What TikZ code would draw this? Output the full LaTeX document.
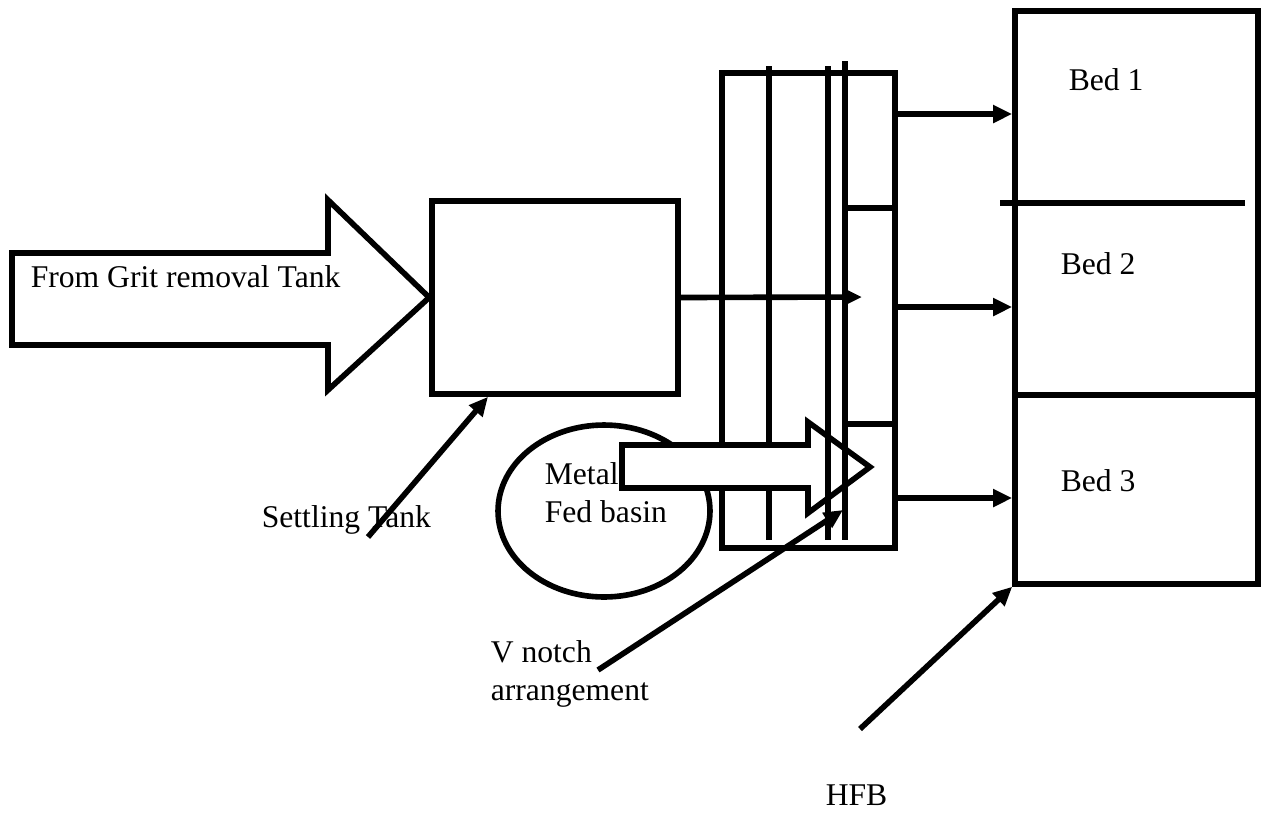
\documentclass[tikz,border=0pt]{standalone}
\usepackage{fontspec}
\setmainfont{Liberation Serif}
\usepackage{tikz}
\usetikzlibrary{shapes.geometric, arrows.meta, positioning}

\begin{document}
\begin{tikzpicture}[
    x=0.02cm, y=-0.02cm,
    line width=3.2pt,
    every node/.style={font=\fontsize{18}{21.5}\selectfont},
    tankbox/.style={rectangle, draw=black, line width=3.2pt, inner sep=0pt},
    fatarrow/.style={draw=black, fill=white, line width=3.2pt, line join=miter},
    label/.style={inner sep=0pt, anchor=base west, align=left},
    arrow/.style={-{Triangle[length=0.38cm, width=0.34cm]}, line width=3.2pt}
]
    \useasboundingbox (0,0) rectangle (1265,823);

    % Nodes
    \node[tankbox, minimum width=4.92cm, minimum height=3.86cm] (settle) at (555,297.5) {};
    \node[tankbox, minimum width=3.46cm, minimum height=9.5cm] (vnotch) at (808.5,310.5) {};
    \node[tankbox, minimum width=4.86cm, minimum height=11.46cm] (hfb) at (1136.5,297.5) {};
    \node[ellipse, draw=black, line width=3.2pt, minimum width=4.24cm, minimum height=3.44cm] (basin) at (604,511) {};

    % Inflow from grit tank
    \draw[fatarrow] (12,253) -- (328,253) -- (328,200) -- (settle.west) -- (328,390) -- (328,345) -- (12,345) -- cycle;
    \node[label] (grit) at (28,287) {From Grit removal Tank};

    % V notch weirs
    \draw (769,66) -- (769,540);
    \draw[fatarrow] (622,445) -- (808,445) -- (808,422) -- (870,467) -- (808,513) -- (808,488) -- (622,488) -- cycle;
    \draw (828,66) -- (828,540);
    \draw (845,61) -- (845,540);
    \draw (845,208) -- (vnotch.east |- 0,208);
    \draw (845,424) -- (vnotch.east |- 0,424);
    \node[label] (basintext) at (542,522) {Metal\\Fed basin};

    % Beds
    \draw (1000,203) -- (1245,203);
    \draw (hfb.west |- 0,395) -- (hfb.east |- 0,395);
    \node[label] (bed1) at (1066,90) {Bed 1};
    \node[label] (bed2) at (1058,274) {Bed 2};
    \node[label] (bed3) at (1058,491) {Bed 3};

    % Labels
    \node[label] (settlelabel) at (259,527) {Settling Tank};
    \node[label] (notchlabel) at (488,700) {V notch\\arrangement};
    \node[label] (hfblabel) at (823,805) {HFB};
    \coordinate (settlefoot) at (368,537);
    \coordinate (notchfoot) at (598,670);
    \coordinate (notchtip) at (843,510);
    \coordinate (hfbfoot) at (860,729);
    \coordinate (weir) at (862,297);

    % Arrows
    \draw[arrow] (settle.east) -- (weir);
    \foreach \y in {114,307,498}
        \draw[arrow] (vnotch.east |- 0,\y) -- (hfb.west |- 0,\y);
    \draw[arrow] (settlefoot) -- (settle.south -| 488,0);
    \draw[arrow] (notchfoot) -- (notchtip);
    \draw[arrow] (hfbfoot) -- (hfb.south west);
\end{tikzpicture}
\end{document}
